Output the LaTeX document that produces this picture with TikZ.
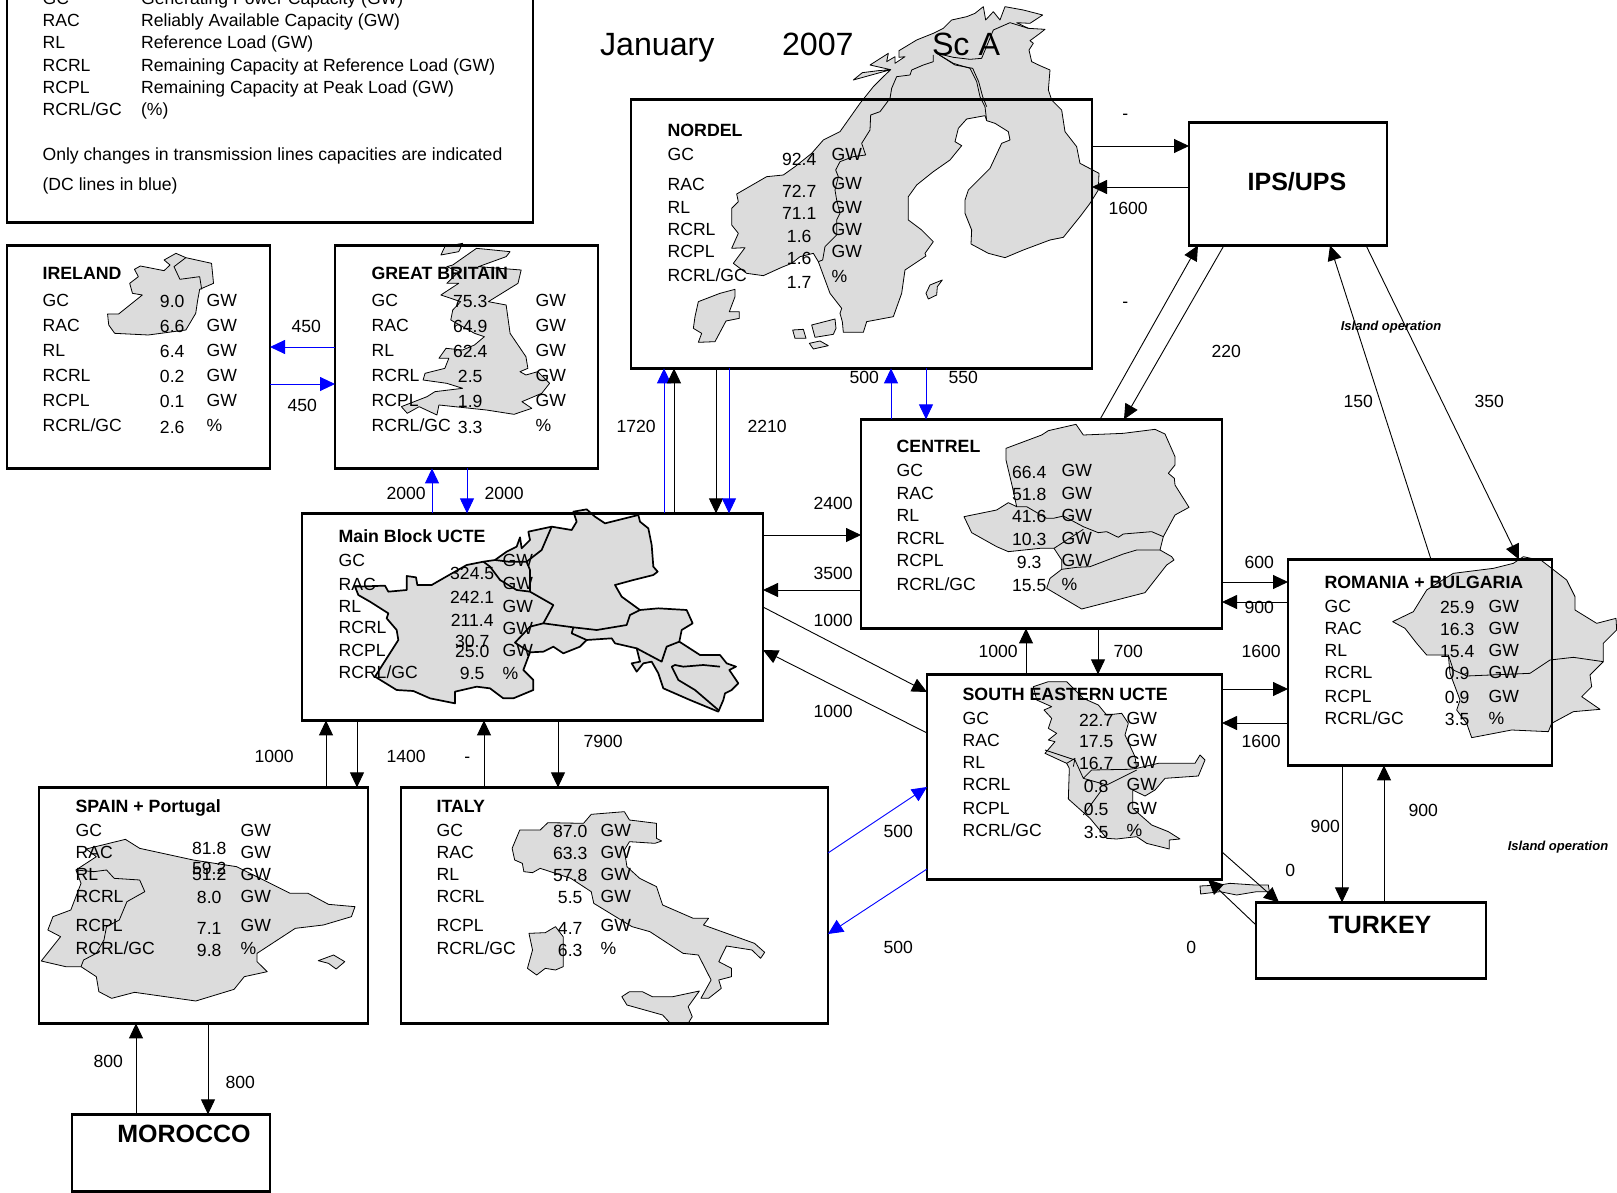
\documentclass[tikz,border=0pt]{standalone}
\usepackage{fontspec}
\setmainfont{Liberation Sans}
\usetikzlibrary{arrows.meta}
\definecolor{mapgray}{HTML}{DCDCDC}
\tikzset{
  tx/.style={inner sep=0pt,outer sep=0pt,yshift=-0.4pt,xshift=-0.4pt,font=\fontsize{17.6}{20}\selectfont,text=black},
  lg/.style={tx,yshift=-0.6pt,anchor=base west},
  hd/.style={tx,font=\fontsize{17.75}{20}\selectfont\bfseries},
  big/.style={inner sep=0pt,outer sep=0pt,yshift=-1pt,font=\fontsize{25}{28}\selectfont\bfseries,anchor=base},
  ttl/.style={inner sep=0pt,outer sep=0pt,yshift=-1pt,font=\fontsize{32.2}{36}\selectfont,anchor=base west},
  isl/.style={inner sep=0pt,outer sep=0pt,yshift=-1pt,font=\fontsize{13}{14}\selectfont\bfseries\itshape,anchor=base},
  num/.style={tx,xshift=0.6pt,anchor=base},
  boxst/.style={draw=black,line width=2.7pt,inner sep=0pt,outer sep=0pt,anchor=north west,rectangle},
  arr/.style={draw=black,line width=0.9pt,-{Triangle[length=15pt,width=14pt]}},
  barr/.style={arr,draw=blue,color=blue},
  mapst/.style={fill=mapgray,draw=black,line width=0.8pt,line join=round},
  mapln/.style={draw=black,line width=0.8pt,line join=round},
  mapthk/.style={fill=mapgray,draw=black,line width=1.7pt,line join=round},
  maplnt/.style={draw=black,line width=1.7pt,line join=round},
}
\newcommand\bx[5]{\node[boxst,minimum width={(#4-#2)*1pt},minimum height={(#5-#3)*1pt}] (#1) at (#2,#3+0.4) {};}
\newcommand\pan[3]{\def\lx{#1}\def\vx{#2}\def\ux{#3}}
\newcommand\rw[7]{%
  \node[tx,anchor=base west] (#1l) at (\lx,#3) {#2};
  \node[num] (#1v) at (\vx,#5) {#4};
  \node[tx,anchor=base west] (#1u) at (\ux,#7) {#6};}
\newcommand\hh[4]{\node[hd,anchor=base west] (#1) at (#2,#3) {#4};}
\newcommand\ed[4]{\node[num] (#1) at (#2,#3) {#4};}
\begin{document}
\begin{tikzpicture}[x=1pt,y=-1pt]
\useasboundingbox (0,0) rectangle (1617,1193);
\clip (0,0) rectangle (1617,1193);
\fill[white] (0,0) rectangle (1617,1193);
% ---------- maps
% Nordic
\begin{scope}[shift={(600,0)},x=0.33333pt,y=-0.33333pt]
\draw[mapst] plot coordinates {(760,240) (787,218) (835,212) (872,209) (810,195) (865,160) (860,185) (885,170) (885,190) (915,170) (897,172) (897,152) (950,120) (1000,100) (1030,85) (1055,60) (1100,50) (1125,40) (1150,20) (1157,60) (1180,35) (1200,60) (1215,20) (1270,30) (1328,45) (1290,70) (1250,68) (1285,85) (1335,88) (1320,100) (1290,122) (1300,130) (1287,150) (1295,185) (1320,197) (1350,210) (1345,270) (1355,300) (1385,330) (1395,395) (1430,440) (1440,490) (1497,520) (1495,570) (1470,610) (1440,650) (1390,712) (1350,720) (1270,750) (1215,773) (1165,760) (1113,732) (1115,690) (1095,640) (1095,600) (1105,570) (1170,505) (1205,430) (1230,420) (1225,395) (1185,370) (1160,362) (1155,347) (1100,357) (1075,385) (1065,425) (1085,437) (1050,480) (1000,515) (950,555) (925,590) (925,660) (965,690) (1000,725) (975,760) (978,768) (915,810) (905,880) (880,950) (800,965) (790,997) (730,997) (727,965) (720,940) (725,925) (690,880) (655,785) (640,760) (600,770) (575,790) (545,802) (490,827) (440,820) (400,790) (435,743) (395,745) (415,700) (395,675) (395,625) (415,605) (410,582) (500,530) (550,525) (585,500) (635,460) (670,420) (720,395) (780,310) (820,260) (850,230) (872,209)} -- cycle;
\draw[mapln] plot coordinates {(1000,165) (1000,185) (970,195) (935,210) (930,225) (890,230) (875,265) (870,295) (840,335) (812,345) (810,390) (785,430) (797,465) (760,470) (720,485) (707,510) (715,530) (705,570) (710,600) (720,640) (710,660) (710,705) (675,740) (668,780) (655,785)};
\draw[mapln] plot coordinates {(1010,160) (1060,190) (1110,205) (1130,245) (1140,290) (1155,320) (1160,362)};
\draw[mapln] plot coordinates {(1018,165) (1065,195) (1118,205) (1136,245) (1148,290) (1160,320)};
\draw[mapln] plot coordinates {(1010,160) (1060,172) (1110,178) (1145,175) (1180,90) (1230,68) (1285,85)};
\draw[mapst] plot coordinates {(405,868) (360,880) (295,905) (285,950) (280,985) (305,1000) (295,1027) (345,1025) (378,963) (418,955) (418,935) (388,935) (405,890)} -- cycle;
\draw[mapst] plot coordinates {(578,990) (610,988) (618,1015) (585,1015)} -- cycle;
\draw[mapst] plot coordinates {(635,975) (705,957) (708,985) (700,1003) (645,1012)} -- cycle;
\draw[mapst] plot coordinates {(628,1030) (660,1023) (685,1037) (640,1047)} -- cycle;
\draw[mapst] plot coordinates {(1027,840) (990,855) (978,880) (985,897) (1010,885) (1012,860)} -- cycle;
\end{scope}
% Ireland and Great Britain
\begin{scope}[x=0.39541pt,y=-0.33333pt]
\draw[mapst] plot coordinates {(272,942) (300,942) (360,885) (335,880) (328,850) (350,830) (340,808) (355,798) (415,812) (430,795) (415,780) (445,760) (470,773) (535,790) (540,850) (505,868) (500,900) (495,940) (470,990) (375,1005) (290,1000) (275,975)} -- cycle;
\draw[mapln] plot coordinates {(470,773) (440,800) (455,838) (505,830) (510,868)};
\draw[mapst] plot coordinates {(1170,730) (1125,740) (1115,765) (1160,755)} -- cycle;
\draw[mapst] plot coordinates {(1145,795) (1205,745) (1290,755) (1280,770) (1210,800) (1318,810) (1310,850) (1235,905) (1280,915) (1290,1000) (1330,1070) (1335,1105) (1315,1115) (1330,1125) (1360,1115) (1390,1150) (1370,1180) (1320,1205) (1345,1225) (1300,1243) (1230,1230) (1110,1215) (1105,1245) (1060,1220) (1030,1240) (1015,1220) (1080,1190) (1100,1175) (1170,1165) (1130,1150) (1070,1140) (1075,1120) (1125,1105) (1135,1075) (1110,1075) (1128,1045) (1170,1050) (1200,1035) (1225,1010) (1200,1000) (1140,960) (1145,930) (1165,905) (1115,885) (1160,850) (1130,850) (1160,815) (1130,800)} -- cycle;
\end{scope}
% Main block
\begin{scope}[shift={(290,490)},x=0.33333pt,y=-0.33333pt]
\draw[mapthk] plot coordinates {(195,290) (285,287) (295,305) (350,300) (350,258) (378,262) (382,285) (425,285) (465,262) (530,225) (580,215) (615,210) (650,185) (680,170) (690,142) (695,175) (720,150) (715,125) (785,110) (845,120) (860,95) (850,65) (890,58) (915,80) (945,100) (1045,75) (1050,95) (1075,115) (1085,165) (1090,230) (1103,245) (1090,255) (1030,270) (975,285) (995,320) (1050,360) (1105,355) (1190,360) (1208,400) (1175,420) (1168,455) (1230,495) (1290,495) (1310,520) (1338,530) (1318,540) (1345,580) (1325,600) (1305,610) (1300,630) (1285,665) (1200,630) (1120,595) (1105,550) (1085,515) (1060,520) (1040,545) (1025,520) (1050,515) (1040,475) (975,460) (965,445) (890,450) (870,470) (820,490) (790,470) (760,485) (720,487) (700,540) (730,570) (730,600) (670,625) (640,625) (600,595) (560,590) (495,605) (495,640) (420,625) (370,603) (320,600) (255,560) (325,450) (320,420) (290,385) (295,370) (240,335) (205,315)} -- cycle;
\draw[maplnt] plot coordinates {(580,215) (600,230) (630,270) (680,300) (720,305) (790,345) (760,400) (720,410) (675,458) (720,487)};
\draw[maplnt] plot coordinates {(720,305) (720,240) (710,215) (755,180) (785,110)};
\draw[maplnt] plot coordinates {(615,210) (655,215) (710,215)};
\draw[maplnt] plot coordinates {(760,400) (850,412) (920,420) (1010,405) (1020,375) (1050,360)};
\draw[maplnt] plot coordinates {(850,412) (845,430) (890,450)};
\draw[maplnt] plot coordinates {(1040,475) (1115,515) (1130,470) (1168,455)};
\draw[maplnt] plot coordinates {(1290,530) (1240,525) (1180,530) (1155,525) (1145,530) (1165,570) (1215,600) (1285,660)};
\end{scope}
% Centrel and South Eastern
\begin{scope}[shift={(850,410)},x=0.33333pt,y=-0.33333pt]
\draw[mapst] plot coordinates {(468,115) (575,75) (595,62) (678,43) (700,75) (820,70) (915,58) (945,72) (975,140) (975,165) (955,190) (973,205) (975,225) (1017,292) (975,315) (940,380) (930,420) (965,440) (972,450) (950,465) (885,548) (695,597) (590,535) (600,505) (635,478) (635,450) (612,415) (570,415) (475,425) (440,410) (365,368) (342,320) (440,300) (475,278) (500,290) (487,230) (468,150)} -- cycle;
\draw[mapln] plot coordinates {(500,290) (530,290) (590,325) (610,325) (640,318) (700,350) (745,368) (770,365) (805,382) (820,372) (905,365) (940,380)};
\draw[mapln] plot coordinates {(612,415) (700,358)};
\draw[mapln] plot coordinates {(635,478) (680,472) (720,470) (820,432) (860,420) (930,420)};
\draw[mapst] plot coordinates {(550,830) (595,815) (650,815) (700,865) (745,885) (770,915) (815,910) (835,940) (825,975) (855,1040) (860,1075) (925,1060) (1035,1060) (1050,1035) (1065,1050) (1045,1098) (945,1105) (915,1140) (885,1158) (848,1140) (848,1195) (905,1245) (955,1265) (990,1287) (958,1290) (958,1317) (890,1300) (860,1280) (800,1287) (770,1285) (720,1225) (655,1167) (658,1075) (650,1060) (585,1030) (615,995) (595,990) (620,970) (595,955) (605,925) (582,900) (605,890) (560,870)} -- cycle;
\draw[mapln] plot coordinates {(585,1020) (675,1050) (700,1105) (725,1080) (835,1078) (860,1075)};
\draw[mapln] plot coordinates {(700,1105) (770,1125) (860,1080)};
\draw[mapln] plot coordinates {(755,1140) (700,1215)};
\draw[mapln] plot coordinates {(650,1060) (675,1045) (670,1070)};
\end{scope}
% Romania + Bulgaria
\begin{scope}[shift={(1240,540)},x=0.33333pt,y=-0.33333pt]
\draw[mapst] plot coordinates {(458,245) (520,215) (560,150) (640,100) (720,90) (760,85) (820,70) (850,50) (905,62) (980,120) (1005,170) (1005,210) (1070,250) (1128,235) (1130,270) (1090,310) (1090,365) (1050,405) (1055,440) (1025,470) (1080,508) (1000,515) (935,550) (925,575) (815,570) (695,593) (680,550) (650,510) (660,480) (630,400) (625,345) (560,345) (530,310) (495,265)} -- cycle;
\draw[mapln] plot coordinates {(625,345) (640,390) (680,408) (870,400) (930,360) (1000,352) (1090,365)};
\end{scope}
% Spain and Italy
\begin{scope}[shift={(30,780)},x=0.5102pt,y=-0.33333pt]
\draw[mapst] plot coordinates {(22,543) (60,470) (35,450) (45,410) (80,390) (100,310) (90,270) (130,230) (110,207) (187,178) (215,205) (320,240) (405,260) (510,340) (545,340) (585,373) (637,380) (630,410) (575,435) (520,445) (445,520) (445,545) (465,575) (420,590) (400,628) (325,663) (205,637) (160,655) (135,635) (130,590) (100,560) (70,560)} -- cycle;
\draw[mapln] plot coordinates {(90,270) (125,275) (150,270) (165,295) (215,300) (225,335) (190,365) (175,420) (150,440) (145,480) (130,520) (105,540) (100,560)};
\draw[mapst] plot coordinates {(565,542) (595,525) (617,545) (600,567) (585,550)} -- cycle;
\draw[mapst] plot coordinates {(945,205) (960,150) (1000,150) (1015,128) (1085,130) (1100,103) (1165,95) (1175,120) (1228,130) (1228,175) (1238,183) (1225,190) (1175,185) (1165,210) (1170,260) (1195,295) (1228,320) (1240,375) (1300,415) (1330,415) (1320,435) (1420,490) (1440,517) (1432,535) (1415,510) (1365,498) (1350,545) (1375,565) (1375,590) (1350,600) (1355,625) (1330,655) (1315,655) (1335,600) (1310,525) (1280,520) (1215,455) (1180,440) (1105,370) (1100,335) (1060,295) (1000,265) (985,278) (968,275) (965,250) (950,240)} -- cycle;
\draw[mapst] plot coordinates {(978,460) (1010,458) (1030,440) (1045,470) (1045,560) (1030,570) (1010,565) (993,585) (975,565) (985,510)} -- cycle;
\draw[mapst] plot coordinates {(1160,650) (1175,635) (1200,635) (1220,650) (1260,650) (1312,633) (1290,680) (1298,710) (1290,730) (1255,730) (1240,705) (1170,675)} -- cycle;
\end{scope}
% Turkey fragment
\begin{scope}[shift={(1180,840)},x=0.33333pt,y=-0.33333pt]
\draw[mapst] plot coordinates {(60,138) (120,135) (150,130) (225,135) (265,135) (268,155) (230,155) (170,165) (120,155) (62,162)} -- cycle;
\end{scope}
% ---------- boxes
\bx{legend}{7}{-20}{533}{222}
\bx{ireland}{7}{245}{270}{468}
\bx{gb}{335}{245}{598}{468}
\bx{nordel}{631}{99}{1092}{368}
\bx{ips}{1189}{122}{1387}{245}
\bx{main}{302}{513}{763}{720}
\bx{centrel}{861}{419}{1222}{628}
\bx{se}{927}{674}{1222}{879}
\bx{rom}{1288}{559}{1552}{765}
\bx{spain}{39}{787}{368}{1023}
\bx{italy}{401}{787}{828}{1023}
\bx{turkey}{1256}{902}{1486}{978}
\bx{morocco}{72}{1114}{270}{1191}
% ---------- connectors
\draw[barr] (gb.west |- 0,347) -- (ireland.east |- 0,347);
\draw[barr] (ireland.east |- 0,384) -- (gb.west |- 0,384);
\draw[barr] (main.north -| 432,0) -- (gb.south -| 432,0);
\draw[barr] (gb.south -| 467,0) -- (main.north -| 467,0);
\draw[barr] (main.north -| 664,0) -- (nordel.south -| 664,0);
\draw[arr] (main.north -| 674,0) -- (nordel.south -| 674,0);
\draw[arr] (nordel.south -| 716,0) -- (main.north -| 716,0);
\draw[barr] (nordel.south -| 729,0) -- (main.north -| 729,0);
\draw[barr] (centrel.north -| 891,0) -- (nordel.south -| 891,0);
\draw[barr] (nordel.south -| 926,0) -- (centrel.north -| 926,0);
\draw[arr] (nordel.east |- 0,146) -- (ips.west |- 0,146);
\draw[arr] (ips.west |- 0,187) -- (nordel.east |- 0,187);
\draw[arr] (centrel.north -| 1100,0) -- (ips.south -| 1198,0);
\draw[arr] (ips.south -| 1224,0) -- (centrel.north -| 1124,0);
\draw[arr] (rom.north -| 1431,0) -- (ips.south -| 1330,0);
\draw[arr] (ips.south -| 1366,0) -- (rom.north -| 1519,0);
\draw[arr] (main.east |- 0,535) -- (centrel.west |- 0,535);
\draw[arr] (centrel.west |- 0,590) -- (main.east |- 0,590);
\draw[arr] (main.east |- 0,607) -- (se.west |- 0,692);
\draw[arr] (se.west |- 0,733) -- (main.east |- 0,650);
\draw[arr] (se.north -| 1026,0) -- (centrel.south -| 1026,0);
\draw[arr] (centrel.south -| 1098,0) -- (se.north -| 1098,0);
\draw[arr] (centrel.east |- 0,582) -- (rom.west |- 0,582);
\draw[arr] (rom.west |- 0,602) -- (centrel.east |- 0,602);
\draw[arr] (se.east |- 0,689) -- (rom.west |- 0,689);
\draw[arr] (rom.west |- 0,723) -- (se.east |- 0,723);
\draw[arr] (rom.south -| 1342,0) -- (turkey.north -| 1342,0);
\draw[arr] (turkey.north -| 1384,0) -- (rom.south -| 1384,0);
\draw[arr] (se.east |- 0,852) -- (turkey.north -| 1279,0);
\draw[arr] (turkey.west |- 0,925) -- (se.south -| 1208,0);
\draw[barr] (italy.east |- 0,853) -- (se.west |- 0,787);
\draw[barr] (se.west |- 0,869) -- (italy.east |- 0,934);
\draw[arr] (spain.north -| 326,0) -- (main.south -| 326,0);
\draw[arr] (main.south -| 357,0) -- (spain.north -| 357,0);
\draw[arr] (italy.north -| 484,0) -- (main.south -| 484,0);
\draw[arr] (main.south -| 558,0) -- (italy.north -| 558,0);
\draw[arr] (morocco.north -| 136,0) -- (spain.south -| 136,0);
\draw[arr] (spain.south -| 208,0) -- (morocco.north -| 208,0);
% ---------- title and legend
\node[ttl] (tjan) at (600,55) {January};
\node[ttl] (tyear) at (782,55) {2007};
\node[ttl] (tsc) at (932,55) {Sc A};
\node[lg] (l1a) at (43,4) {GC};
\node[lg] (l1b) at (141.5,4) {Generating Power Capacity (GW)};
\node[lg] (l2a) at (43,26) {RAC};
\node[lg] (l2b) at (141.5,26) {Reliably Available Capacity (GW)};
\node[lg] (l3a) at (43,48) {RL};
\node[lg] (l3b) at (141.5,48) {Reference Load (GW)};
\node[lg] (l4a) at (43,71) {RCRL};
\node[lg] (l4b) at (141.5,71) {Remaining Capacity at Reference Load (GW)};
\node[lg] (l5a) at (43,93) {RCPL};
\node[lg] (l5b) at (141.5,93) {Remaining Capacity at Peak Load (GW)};
\node[lg] (l6a) at (43,115) {RCRL/GC};
\node[lg] (l6b) at (141.5,115) {(\%)};
\node[lg] (l7) at (43,160) {Only changes in transmission lines capacities are indicated};
\node[lg] (l8) at (43,190) {(DC lines in blue)};
% ---------- panels
\hh{irt}{43}{279}{IRELAND}
\pan{43}{172}{207}
\rw{ira}{GC}{306}{9.0}{307}{GW}{306}
\rw{irb}{RAC}{331}{6.6}{332}{GW}{331}
\rw{irc}{RL}{356}{6.4}{357}{GW}{356}
\rw{ird}{RCRL}{381}{0.2}{382}{GW}{381}
\rw{ire}{RCPL}{406}{0.1}{407}{GW}{406}
\rw{irf}{RCRL/GC}{431}{2.6}{433}{\%}{431}
\hh{gbt}{372}{279}{GREAT BRITAIN}
\pan{372}{470}{536}
\rw{gba}{GC}{306}{75.3}{307}{GW}{306}
\rw{gbb}{RAC}{331}{64.9}{332}{GW}{331}
\rw{gbc}{RL}{356}{62.4}{357}{GW}{356}
\rw{gbd}{RCRL}{381}{2.5}{382}{GW}{381}
\rw{gbe}{RCPL}{406}{1.9}{407}{GW}{406}
\rw{gbf}{RCRL/GC}{431}{3.3}{433}{\%}{431}
\hh{not}{668}{136}{NORDEL}
\pan{668}{799}{832}
\rw{noa}{GC}{160}{92.4}{165}{GW}{160}
\rw{nob}{RAC}{190}{72.7}{197}{GW}{189}
\rw{noc}{RL}{213}{71.1}{219}{GW}{213}
\rw{nod}{RCRL}{235}{1.6}{242}{GW}{235}
\rw{noe}{RCPL}{257}{1.6}{264}{GW}{257}
\rw{nof}{RCRL/GC}{281}{1.7}{288}{\%}{282}
\hh{mat}{339}{542}{Main Block UCTE}
\pan{339}{472}{503}
\rw{maa}{GC}{566}{324.5}{579}{GW}{566}
\rw{mab}{RAC}{590}{242.1}{603}{GW}{589}
\rw{mac}{RL}{612}{211.4}{626}{GW}{612}
\rw{mad}{RCRL}{633}{30.7}{647}{GW}{634}
\rw{mae}{RCPL}{656}{25.0}{657}{GW}{656}
\rw{maf}{RCRL/GC}{678}{9.5}{679}{\%}{679}
\hh{cet}{897}{452}{CENTREL}
\pan{897}{1029}{1062}
\rw{cea}{GC}{476}{66.4}{478}{GW}{476}
\rw{ceb}{RAC}{499}{51.8}{500}{GW}{499}
\rw{cec}{RL}{521}{41.6}{522}{GW}{521}
\rw{ced}{RCRL}{544}{10.3}{545}{GW}{544}
\rw{cee}{RCPL}{566}{9.3}{568}{GW}{566}
\rw{cef}{RCRL/GC}{590}{15.5}{591}{\%}{590}
\hh{set}{963}{700}{SOUTH EASTERN UCTE}
\pan{963}{1096}{1127}
\rw{sea}{GC}{724}{22.7}{726}{GW}{724}
\rw{seb}{RAC}{746}{17.5}{747}{GW}{746}
\rw{sec}{RL}{768}{16.7}{769}{GW}{768}
\rw{sed}{RCRL}{790}{0.8}{792}{GW}{790}
\rw{see}{RCPL}{814}{0.5}{815}{GW}{814}
\rw{sef}{RCRL/GC}{836}{3.5}{838}{\%}{836}
\hh{rot}{1325}{588}{ROMANIA + BULGARIA}
\pan{1325}{1457}{1489}
\rw{roa}{GC}{612}{25.9}{613}{GW}{612}
\rw{rob}{RAC}{634}{16.3}{635}{GW}{634}
\rw{roc}{RL}{656}{15.4}{657}{GW}{656}
\rw{rod}{RCRL}{678}{0.9}{679}{GW}{678}
\rw{roe}{RCPL}{702}{0.9}{703}{GW}{702}
\rw{rof}{RCRL/GC}{724}{3.5}{725}{\%}{724}
\hh{spt}{76}{812}{SPAIN + Portugal}
\pan{76}{209}{241}
\rw{spa}{GC}{836}{81.8}{854}{GW}{836}
\rw{spb}{RAC}{858}{59.2}{874}{GW}{858}
\rw{spc}{RL}{880}{51.2}{880}{GW}{880}
\rw{spd}{RCRL}{902}{8.0}{903}{GW}{902}
\rw{spe}{RCPL}{931}{7.1}{934}{GW}{931}
\rw{spf}{RCRL/GC}{954}{9.8}{956}{\%}{954}
\hh{itt}{437}{812}{ITALY}
\pan{437}{570}{601}
\rw{ita}{GC}{836}{87.0}{837}{GW}{836}
\rw{itb}{RAC}{858}{63.3}{859}{GW}{858}
\rw{itc}{RL}{880}{57.8}{881}{GW}{880}
\rw{itd}{RCRL}{902}{5.5}{903}{GW}{902}
\rw{ite}{RCPL}{931}{4.7}{934}{GW}{931}
\rw{itf}{RCRL/GC}{954}{6.3}{956}{\%}{954}
% ---------- big labels
\node[big] (tips) at (1297,190) {IPS/UPS};
\node[big] (ttur) at (1380,932) {TURKEY};
\node[big] (tmor) at (184,1141) {MOROCCO};
\node[isl] (isl1) at (1391,329) {Island operation};
\node[isl] (isl2) at (1558,849) {Island operation};
% ---------- connector labels
\ed{e1}{306}{332}{450}
\ed{e2}{302}{411}{450}
\ed{e3}{406}{499}{2000}
\ed{e4}{504}{499}{2000}
\ed{e5}{636}{432}{1720}
\ed{e6}{767}{432}{2210}
\ed{e7}{864}{383}{500}
\ed{e8}{963}{383}{550}
\ed{e9}{1125}{119}{-}
\ed{e10}{1125}{307}{-}
\ed{e11}{467}{762}{-}
\ed{e12}{1128}{214}{1600}
\ed{e13}{1226}{357}{220}
\ed{e14}{1358}{407}{150}
\ed{e15}{1489}{407}{350}
\ed{e16}{833}{509}{2400}
\ed{e17}{833}{579}{3500}
\ed{e18}{833}{626}{1000}
\ed{e19}{833}{717}{1000}
\ed{e20}{998}{657}{1000}
\ed{e21}{1128}{657}{700}
\ed{e22}{1259}{568}{600}
\ed{e23}{1259}{613}{900}
\ed{e24}{1261}{657}{1600}
\ed{e25}{1261}{747}{1600}
\ed{e26}{1325}{832}{900}
\ed{e27}{1423}{816}{900}
\ed{e28}{1290}{876}{0}
\ed{e29}{1191}{953}{0}
\ed{e30}{898}{837}{500}
\ed{e31}{898}{953}{500}
\ed{e32}{274}{762}{1000}
\ed{e33}{406}{762}{1400}
\ed{e34}{603}{747}{7900}
\ed{e35}{108}{1067}{800}
\ed{e36}{240}{1088}{800}
\end{tikzpicture}
\end{document}
